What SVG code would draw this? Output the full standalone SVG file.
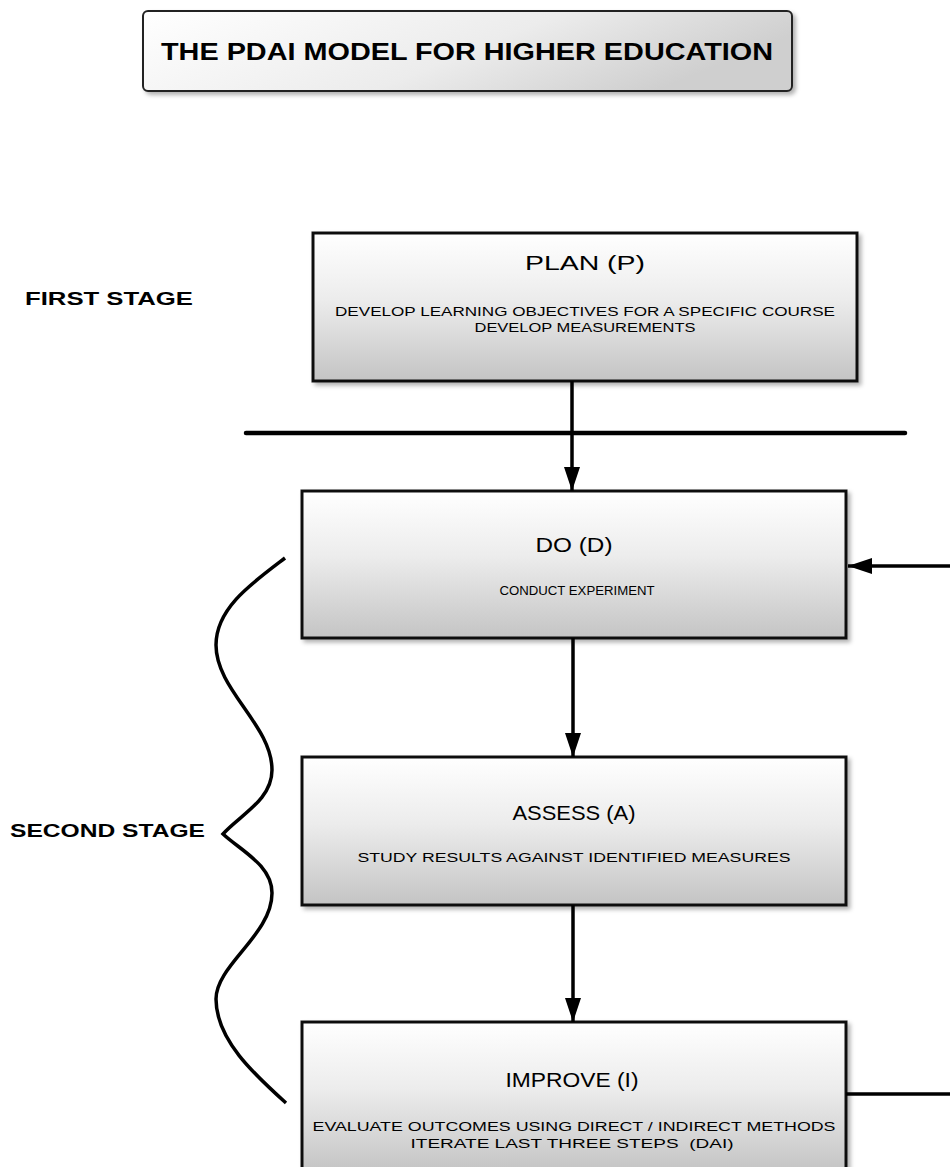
<svg xmlns="http://www.w3.org/2000/svg" width="950" height="1167" viewBox="0 0 950 1167">
<defs>
<linearGradient id="gv" x1="0" y1="0" x2="0" y2="1">
<stop offset="0" stop-color="#ffffff"/>
<stop offset="0.45" stop-color="#ececec"/>
<stop offset="1" stop-color="#c4c4c4"/>
</linearGradient>
<linearGradient id="gh" x1="0" y1="0" x2="1" y2="0.3">
<stop offset="0" stop-color="#ffffff"/>
<stop offset="0.6" stop-color="#ececec"/>
<stop offset="1" stop-color="#cfcfcf"/>
</linearGradient>
<marker id="ah" viewBox="0 0 24 16" refX="24" refY="8" markerWidth="24" markerHeight="16" orient="auto" markerUnits="userSpaceOnUse">
<path d="M0,0 L24,8 L0,16 z" fill="#000"/>
</marker>
<filter id="sh" x="-5%" y="-5%" width="115%" height="120%">
<feDropShadow dx="3" dy="3" stdDeviation="2" flood-color="#000" flood-opacity="0.3"/>
</filter>
</defs>
<style>
.box{fill:url(#gv);stroke:#111;stroke-width:3}
.head{font-family:"Liberation Sans",Arial,sans-serif;font-size:21px;fill:#000;text-anchor:middle}
.sub{font-family:"Liberation Sans",Arial,sans-serif;font-size:12.5px;fill:#000;text-anchor:middle}
.stage{font-family:"Liberation Sans",Arial,sans-serif;font-size:18px;font-weight:bold;fill:#000}
.con{stroke:#000;stroke-width:3.5;fill:none}
</style>

<g id="title">
<rect x="143" y="11" width="649" height="80" rx="5" fill="url(#gh)" stroke="#222" stroke-width="2" filter="url(#sh)"/>
<text x="467" y="60" font-family="Liberation Sans,Arial,sans-serif" font-size="23" font-weight="bold" text-anchor="middle" textLength="612" lengthAdjust="spacingAndGlyphs">THE PDAI MODEL FOR HIGHER EDUCATION</text>
</g>

<g id="first-stage">
<text class="stage" x="25" y="305" textLength="168" lengthAdjust="spacingAndGlyphs">FIRST STAGE</text>
</g>
<g id="second-stage">
<text class="stage" x="10" y="837" textLength="195" lengthAdjust="spacingAndGlyphs">SECOND STAGE</text>
</g>

<g id="plan">
<rect class="box" x="313" y="233" width="544" height="148" filter="url(#sh)"/>
<text class="head" x="585" y="270" textLength="120" lengthAdjust="spacingAndGlyphs">PLAN (P)</text>
<text class="sub" x="585" y="316" textLength="500" lengthAdjust="spacingAndGlyphs">DEVELOP LEARNING OBJECTIVES FOR A SPECIFIC COURSE</text>
<text class="sub" x="585" y="332" textLength="221" lengthAdjust="spacingAndGlyphs">DEVELOP MEASUREMENTS</text>
</g>

<g id="do">
<rect class="box" x="302" y="491" width="544" height="147" filter="url(#sh)"/>
<text class="head" x="574" y="552" textLength="77" lengthAdjust="spacingAndGlyphs">DO (D)</text>
<text class="sub" x="577" y="595" textLength="155" lengthAdjust="spacingAndGlyphs">CONDUCT EXPERIMENT</text>
</g>

<g id="assess">
<rect class="box" x="302" y="757" width="544" height="148" filter="url(#sh)"/>
<text class="head" x="574" y="820" textLength="123" lengthAdjust="spacingAndGlyphs">ASSESS (A)</text>
<text class="sub" x="574" y="862" textLength="433" lengthAdjust="spacingAndGlyphs">STUDY RESULTS AGAINST IDENTIFIED MEASURES</text>
</g>

<g id="improve">
<rect class="box" x="302" y="1022" width="544" height="150" filter="url(#sh)"/>
<text class="head" x="572" y="1087" textLength="133" lengthAdjust="spacingAndGlyphs">IMPROVE (I)</text>
<text class="sub" x="574" y="1131" textLength="523" lengthAdjust="spacingAndGlyphs">EVALUATE OUTCOMES USING DIRECT / INDIRECT METHODS</text>
<text class="sub" x="572" y="1148" textLength="323" lengthAdjust="spacingAndGlyphs">ITERATE LAST THREE STEPS &#160;(DAI)</text>
</g>

<g id="connectors">
<line x1="246" y1="433" x2="905" y2="433" stroke="#000" stroke-width="4.5" stroke-linecap="round"/>
<line class="con" x1="572" y1="381" x2="572" y2="491" marker-end="url(#ah)"/>
<line class="con" x1="573" y1="638" x2="573" y2="757" marker-end="url(#ah)"/>
<line class="con" x1="573" y1="905" x2="573" y2="1022" marker-end="url(#ah)"/>
<line class="con" x1="950" y1="566" x2="848" y2="566" marker-end="url(#ah)"/>
<line class="con" x1="846" y1="1094" x2="950" y2="1094"/>
<path class="con" stroke-width="3" d="M285,558 C252,583 216,608 216,645 C216,690 272,725 272,770 C272,800 240,815 223,834 C240,850 272,865 272,893 C272,935 216,965 216,999 C216,1040 255,1075 286,1103"/>
</g>
</svg>
